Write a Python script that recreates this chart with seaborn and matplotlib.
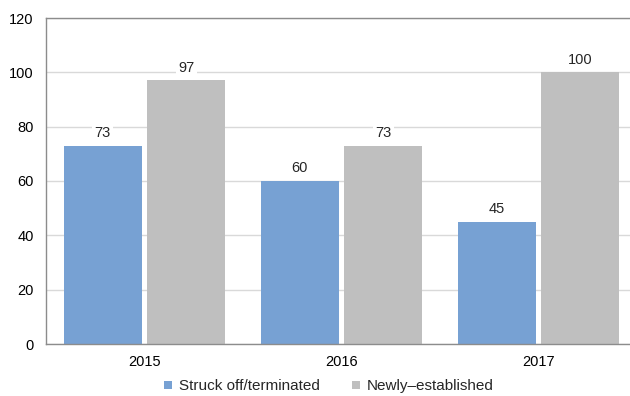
import matplotlib
matplotlib.use("Agg")
import matplotlib.pyplot as plt
import pandas as pd
import seaborn as sns

# ── Data ──────────────────────────────────────────────────────────────────────
years = ["2015", "2016", "2017"]
struck_off = [73, 60, 45]
newly_established = [97, 73, 100]
series_names = ["Struck off/terminated", "Newly\u2013established"]
colors = ["#77A1D3", "#BFBFBF"]

df = pd.DataFrame({
    "year": years * 2,
    "count": struck_off + newly_established,
    "series": [series_names[0]] * 3 + [series_names[1]] * 3,
})

# ── Figure ────────────────────────────────────────────────────────────────────
sns.set_theme(style="white")
plt.rcParams["font.family"] = ["Liberation Sans", "DejaVu Sans"]

fig = plt.figure(figsize=(6.3, 3.96), dpi=100)
ax = fig.add_axes([46 / 630, 52 / 396, 591 / 630, 326 / 396])

sns.barplot(
    data=df, x="year", y="count", hue="series",
    palette=colors, width=0.85, gap=0.07, saturation=1,
    linewidth=0, ax=ax, legend=True,
)

ax.set_xlim(-0.5, 2.5)
ax.set_ylim(0, 120)
ax.set_yticks(range(0, 121, 20))
ax.yaxis.grid(True, color="#D9D9D9", linewidth=1)
ax.set_axisbelow(True)
ax.set_xlabel("")
ax.set_ylabel("")
ax.tick_params(axis="y", labelsize=10.5, colors="black", length=0, pad=9)
ax.tick_params(axis="x", labelsize=10.5, colors="black", length=0, pad=8)

for side in ["left", "bottom", "top"]:
    ax.spines[side].set_color("#8C8C8C")
    ax.spines[side].set_linewidth(1)
ax.spines["right"].set_visible(False)

# value labels with white box covering gridlines
for container in ax.containers:
    ax.bar_label(
        container, padding=4, fontsize=10.5,
        bbox=dict(facecolor="white", edgecolor="none", pad=1.5),
    )

handles, labels = ax.get_legend_handles_labels()
ax.legend(
    handles, labels, loc="center", bbox_to_anchor=(0.479, -0.13),
    ncol=2, frameon=False, fontsize=11, handlelength=0.52, handleheight=0.52,
    handletextpad=0.46, columnspacing=2.1,
)

plt.savefig("out.png", dpi=100)
plt.close()
